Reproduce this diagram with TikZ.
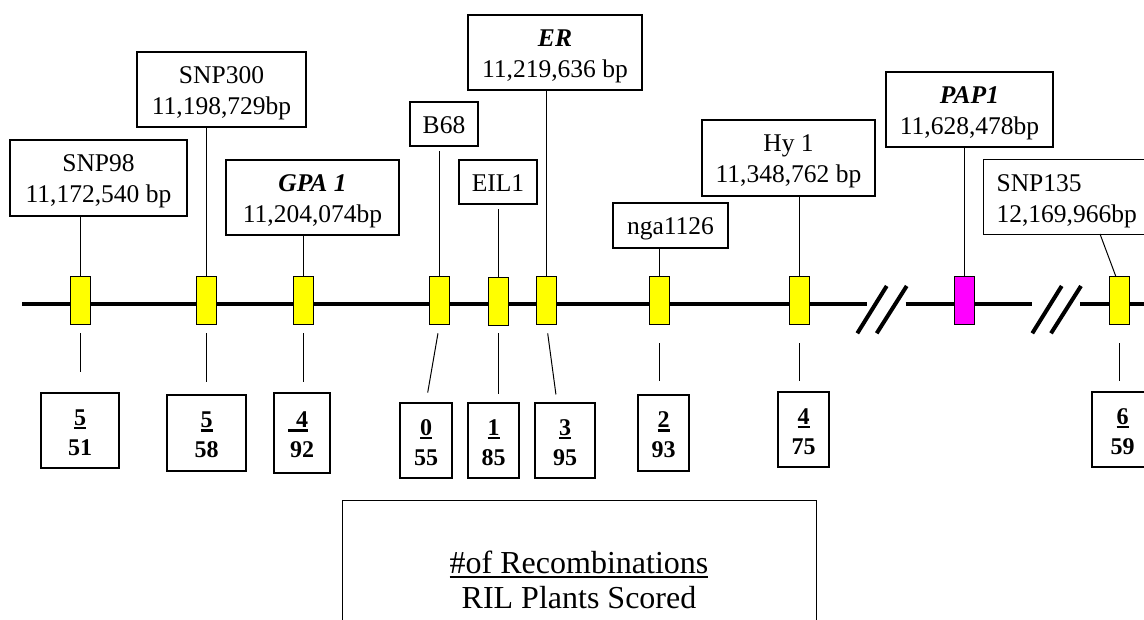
\documentclass[tikz,border=0pt]{standalone}
\usepackage{fontspec}
\setmainfont{Liberation Serif}
\usetikzlibrary{calc}
\definecolor{mkyellow}{RGB}{255,255,0}
\definecolor{mkmagenta}{RGB}{255,0,255}
\newcommand\lbline[1]{\rule[-1pt]{0pt}{21pt}\smash{#1}}
\newcommand\nmline[1]{\rule[-1pt]{0pt}{21pt}#1}
\newcommand\ulnum[1]{\setbox0=\hbox{#1}\rlap{\rule[-4pt]{\wd0}{2.2pt}}\box0}
\newcommand\ultext[1]{\setbox0=\hbox{#1}\rlap{\rule[-4.5pt]{\wd0}{1.6pt}}\box0}
\begin{document}
\begin{tikzpicture}[x=1pt,y=-1pt,
  lbl/.style={draw, line width=1.2pt, align=center, inner sep=0pt, font=\fontsize{25.5}{31}\selectfont},
  cnt/.style={draw, line width=1.2pt, align=center, inner sep=0pt, font=\fontsize{24}{30}\selectfont\bfseries},
  mk/.style={draw, line width=0.9pt, fill=mkyellow, minimum width=20pt, minimum height=48pt, inner sep=0pt},
  chrom/.style={line width=4.6pt},
  brk/.style={line width=4pt},
  tick/.style={line width=1pt}]
\useasboundingbox (0,0) rectangle (1144,620);
\clip (0,0) rectangle (1144,620);
% chromosome
\draw[chrom] (22,304) -- (866.7,304);
\draw[chrom] (905.7,304) -- (1031.7,304);
\draw[chrom] (1080,304) -- (1150,304);
\draw[brk] (857.3,333.3) -- (886.7,286);
\draw[brk] (876.7,333.3) -- (906.7,286);
\draw[brk] (1032.3,333.3) -- (1061.7,286);
\draw[brk] (1051,333.3) -- (1081,286);
% markers
\node[mk] (m1) at (80,300) {};
\node[mk] (m2) at (206.5,300) {};
\node[mk] (m3) at (303.5,300) {};
\node[mk] (m4) at (439.5,300) {};
\node[mk] (m5) at (498,301) {};
\node[mk] (m6) at (546.5,300) {};
\node[mk] (m7) at (659,300) {};
\node[mk] (m8) at (799,300) {};
\node[mk, fill=mkmagenta] (m9) at (964,300) {};
\node[mk] (m10) at (1119.5,300) {};
% labels
\node[lbl, minimum width=177pt, minimum height=76pt] (l1) at (98.5,178) {\lbline{SNP98}\\\lbline{11,172,540 bp}};
\node[lbl, minimum width=169pt, minimum height=75pt] (l2) at (221.5,89.5) {\lbline{SNP300}\\\lbline{11,198,729bp}};
\node[lbl, minimum width=173pt, minimum height=75pt] (l3) at (312.5,197.5) {\lbline{\textbf{\textit{GPA 1}}}\\\lbline{11,204,074bp}};
\node[lbl, minimum width=68pt, minimum height=44pt] (l4) at (444,124) {\lbline{B68}};
\node[lbl, minimum width=78pt, minimum height=44pt] (l5) at (498,182) {\lbline{EIL1}};
\node[lbl, minimum width=174pt, minimum height=75pt] (l6) at (555,52.5) {\lbline{\textbf{\textit{ER}}}\\\lbline{11,219,636 bp}};
\node[lbl, minimum width=115pt, minimum height=45pt] (l7) at (670.5,225.5) {\lbline{nga1126}};
\node[lbl, minimum width=173pt, minimum height=76pt] (l8) at (788.5,158) {\lbline{Hy 1}\\\lbline{11,348,762 bp}};
\node[lbl, minimum width=167pt, minimum height=75pt] (l9) at (969.5,109.5) {\lbline{\textbf{\textit{PAP1}}}\\\lbline{11,628,478bp}};
\node[lbl, anchor=north west, align=left, text width=170pt, inner xsep=13pt, minimum height=75pt] (l10) at (983,159) {\lbline{SNP135}\\\lbline{12,169,966bp}};
% label connectors
\draw[tick] (m1.north) -- (m1.north |- l1.south);
\draw[tick] (m2.north) -- (m2.north |- l2.south);
\draw[tick] (m3.north) -- (m3.north |- l3.south);
\draw[tick, shorten >=4pt] (m4.north) -- (m4.north |- l4.south);
\draw[tick, shorten >=4pt] (m5.north) -- (m5.north |- l5.south);
\draw[tick] (m6.north) -- (m6.north |- l6.south);
\draw[tick] (m7.north) -- (m7.north |- l7.south);
\draw[tick] (m8.north) -- (m8.north |- l8.south);
\draw[tick] (m9.north) -- (m9.north |- l9.south);
\coordinate (s10) at (1100,234);
\coordinate (t10) at (1115.7,276);
\draw[tick] (s10) -- (t10);
% count boxes
\node[cnt, minimum width=78pt, minimum height=75pt] (c1) at (80,430.5) {\nmline{\ulnum{5}}\\\nmline{51}};
\node[cnt, minimum width=79pt, minimum height=76pt] (c2) at (206.5,433) {\nmline{\ulnum{5}}\\\nmline{58}};
\node[cnt, minimum width=56pt, minimum height=80pt] (c3) at (302,433) {\nmline{\kern-8pt\ulnum{\kern8pt 4}}\\\nmline{92}};
\node[cnt, minimum width=52pt, minimum height=75pt] (c4) at (426,440.5) {\nmline{\ulnum{0}}\\\nmline{55}};
\node[cnt, minimum width=51pt, minimum height=75pt] (c5) at (493.5,440.5) {\nmline{\ulnum{1}}\\\nmline{85}};
\node[cnt, minimum width=60pt, minimum height=75pt] (c6) at (565,440.5) {\nmline{\ulnum{3}}\\\nmline{95}};
\node[cnt, minimum width=51pt, minimum height=76pt] (c7) at (663.5,433) {\nmline{\ulnum{2}}\\\nmline{93}};
\node[cnt, minimum width=51pt, minimum height=75pt] (c8) at (803.5,429.5) {\nmline{\ulnum{4}}\\\nmline{75}};
\node[cnt, minimum width=61pt, minimum height=75pt] (c10) at (1122.5,429.5) {\nmline{\ulnum{6}}\\\nmline{59}};
% count connectors
\draw[tick, shorten <=9pt, shorten >=20pt] (m1.south) -- (m1.south |- c1.north);
\draw[tick, shorten <=9pt, shorten >=12pt] (m2.south) -- (m2.south |- c2.north);
\draw[tick, shorten <=9pt, shorten >=10pt] (m3.south) -- (m3.south |- c3.north);
\draw[tick, shorten <=9pt, shorten >=10pt] (m4.south) -- (c4.north);
\draw[tick, shorten <=8pt, shorten >=8pt] (m5.south) -- (m5.south |- c5.north);
\draw[tick, shorten <=9pt, shorten >=8pt] (m6.south) -- ($(c6.north)+(-8,0)$);
\draw[tick, shorten <=19pt, shorten >=13pt] (m7.south) -- (m7.south |- c7.north);
\draw[tick, shorten <=19pt, shorten >=10pt] (m8.south) -- (m8.south |- c8.north);
\draw[tick, shorten <=19pt, shorten >=10pt] (m10.south) -- (m10.south |- c10.north);
% legend
\node[draw, line width=1.2pt, anchor=north west, minimum width=473.5pt, minimum height=160pt, inner sep=0pt] (leg) at (342,500) {};
\node[align=center, inner sep=0pt, font=\fontsize{32}{35}\selectfont] (legtxt) at (579,580) {\rule[-1pt]{0pt}{23pt}\ultext{\#of Recombinations}\\\rule[-1pt]{0pt}{23pt}RIL Plants Scored};
\end{tikzpicture}
\end{document}
